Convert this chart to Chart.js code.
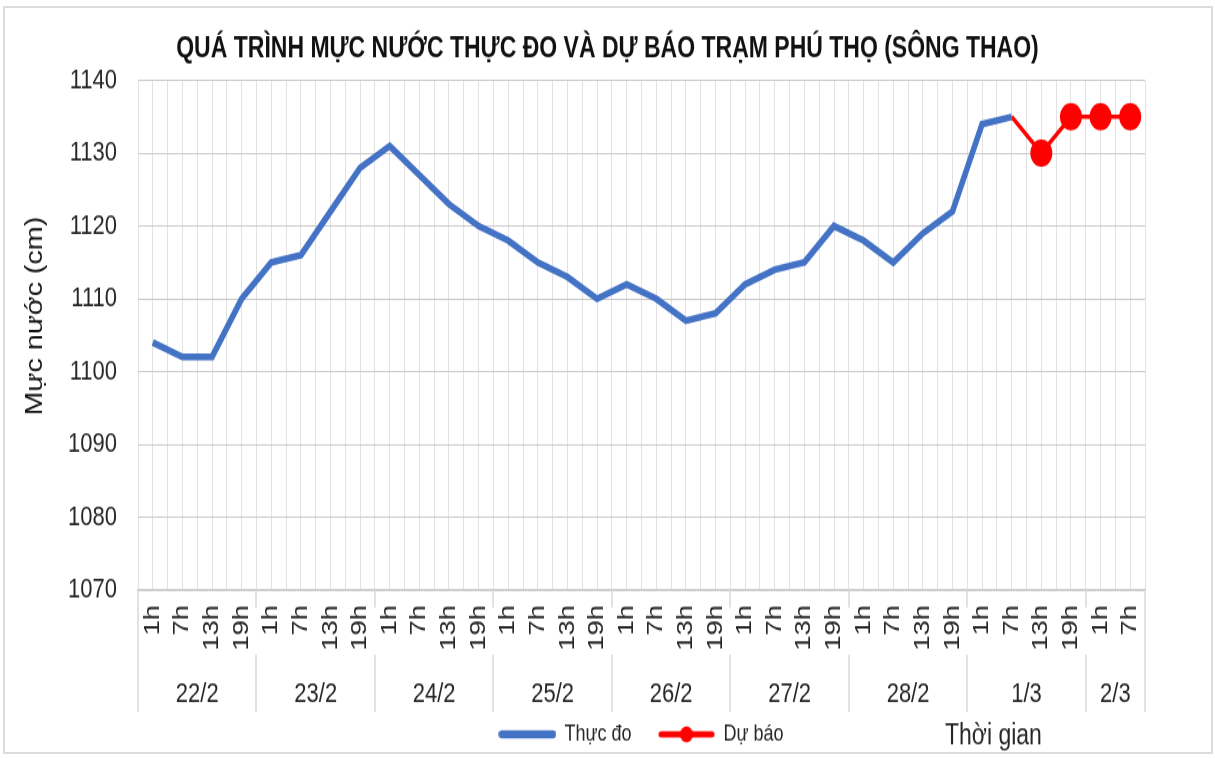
<!DOCTYPE html>
<html lang="vi">
<head>
<meta charset="utf-8">
<title>Mực nước trạm Phú Thọ</title>
<script src="https://cdn.jsdelivr.net/npm/chart.js@4.4.1/dist/chart.umd.min.js"></script>
<style>
    body { margin: 0; background: #fff; overflow: hidden; }
    #khung { position: absolute; left: 3px; top: 6px; width: 1206px; height: 744px; border: 2px solid #dcdcdc; }
    /* hình gốc bị kéo dãn theo chiều dọc, nên vẽ thấp rồi kéo lại */
    #vung { position: absolute; left: 0; top: 0; width: 1215px; height: 609px; transform: scaleY(1.2447); transform-origin: 0 0; }
</style>
</head>
<body>
<div id="khung"></div>
<div id="vung"><canvas id="bieuDoMucNuoc" width="1215" height="609"></canvas></div>
<script>
// ===== Dữ liệu =====
var gio = ['1h', '7h', '13h', '19h', '1h', '7h', '13h', '19h', '1h', '7h', '13h', '19h',
    '1h', '7h', '13h', '19h', '1h', '7h', '13h', '19h', '1h', '7h', '13h', '19h',
    '1h', '7h', '13h', '19h', '1h', '7h', '13h', '19h', '1h', '7h'];
var ngay = ['22/2', '23/2', '24/2', '25/2', '26/2', '27/2', '28/2', '1/3', '2/3'];
var soMocMoiNgay = [4, 4, 4, 4, 4, 4, 4, 4, 2];

var thucDo = [1104, 1102, 1102, 1110, 1115, 1116, 1122, 1128, 1131, 1127, 1123, 1120,
    1118, 1115, 1113, 1110, 1112, 1110, 1107, 1108, 1112, 1114, 1115, 1120,
    1118, 1115, 1119, 1122, 1134, 1135, null, null, null, null];
var duBao = [null, null, null, null, null, null, null, null, null, null, null, null,
    null, null, null, null, null, null, null, null, null, null, null, null,
    null, null, null, null, null, 1135, 1130, 1135, 1135, 1135];

var mocTrucY = [1070, 1080, 1090, 1100, 1110, 1120, 1130, 1140];

var fontChu = "'Liberation Sans', Arial, sans-serif";
var mauChu = '#262626';

// mẫu nét cho chú thích
function taoMauChuThich(mau, coCham) {
    var c = document.createElement('canvas');
    c.width = 58;
    c.height = 14;
    var g = c.getContext('2d');
    g.strokeStyle = mau;
    g.lineCap = 'round';
    g.lineWidth = coCham ? 5 : 6.5;
    g.beginPath();
    g.moveTo(3.5, 7);
    g.lineTo(54.5, 7);
    g.stroke();
    if (coCham) {
        g.fillStyle = mau;
        g.beginPath();
        g.arc(29, 7, 6.5, 0, Math.PI * 2);
        g.fill();
    }
    return c;
}
var mauXanh = taoMauChuThich('#4472C4', false);
var mauDo = taoMauChuThich('#FF0000', true);

// ===== Plugin vẽ nhãn ngày, tên trục =====
var nhanPhu = {
    id: 'nhanPhu',
    afterDraw: function (chart) {
        var ctx = chart.ctx;
        var x = chart.scales.x;
        var vung = chart.chartArea;
        var nuaO = (x.getPixelForValue(1) - x.getPixelForValue(0)) / 2;
        var dayDuoi = 572;

        ctx.save();
        ctx.strokeStyle = '#d9d9d9';
        ctx.lineWidth = 1.5;
        ctx.fillStyle = mauChu;
        ctx.font = '22px ' + fontChu;
        ctx.textAlign = 'center';
        ctx.textBaseline = 'middle';

        var batDau = 0;
        for (var i = 0; i <= ngay.length; i++) {
            var xb = Math.round(x.getPixelForValue(batDau) - nuaO);
            ctx.beginPath();
            if (i === 0 || i === ngay.length) {
                ctx.moveTo(xb, vung.bottom);
                ctx.lineTo(xb, dayDuoi);
            } else {
                ctx.moveTo(xb, vung.bottom);
                ctx.lineTo(xb, 488);
                ctx.moveTo(xb, 526);
                ctx.lineTo(xb, dayDuoi);
            }
            ctx.stroke();
            if (i < ngay.length) {
                var giua = (x.getPixelForValue(batDau) + x.getPixelForValue(batDau + soMocMoiNgay[i] - 1)) / 2;
                ctx.fillText(ngay[i], giua, 558);
                batDau += soMocMoiNgay[i];
            }
        }

        // tên trục tung
        ctx.save();
        ctx.fillStyle = '#111';
        ctx.font = '23px ' + fontChu;
        ctx.translate(36, 254);
        ctx.rotate(-Math.PI / 2);
        ctx.fillText('Mực nước (cm)', 0, 0);
        ctx.restore();

        // tên trục hoành
        ctx.textAlign = 'left';
        ctx.font = '23px ' + fontChu;
        ctx.fillText('Thời gian', 945, 592);
        ctx.restore();
    }
};

// ===== Biểu đồ =====
var ctxMucNuoc = document.getElementById('bieuDoMucNuoc').getContext('2d');
var bieuDoMucNuoc = new Chart(ctxMucNuoc, {
    type: 'line',
    data: {
        labels: gio,
        datasets: [{
            label: 'Thực đo',
            data: thucDo,
            borderColor: '#4472C4',
            backgroundColor: '#4472C4',
            borderWidth: 5.5,
            pointRadius: 0,
            tension: 0
        }, {
            label: 'Dự báo',
            data: duBao,
            borderColor: '#FF0000',
            backgroundColor: '#FF0000',
            borderWidth: 3.5,
            pointRadius: function (c) { return c.dataIndex > 29 ? 11 : 0; },
            pointBorderWidth: 0,
            tension: 0
        }]
    },
    options: {
        responsive: false,
        animation: false,
        layout: { padding: 0 },
        plugins: {
            title: {
                display: true,
                text: 'QUÁ TRÌNH MỰC NƯỚC THỰC ĐO VÀ DỰ BÁO TRẠM PHÚ THỌ (SÔNG THAO)',
                color: '#111',
                font: { family: fontChu, size: 23, weight: 'bold' },
                padding: { top: 26, bottom: 11 }
            },
            legend: {
                position: 'bottom',
                fullSize: false,
                labels: {
                    usePointStyle: true,
                    pointStyleWidth: 56,
                    padding: 27,
                    font: { family: fontChu, size: 18 },
                    generateLabels: function () {
                        return [
                            { text: 'Thực đo', pointStyle: mauXanh, fillStyle: '#4472C4', strokeStyle: '#4472C4', lineWidth: 0, fontColor: mauChu, hidden: false, datasetIndex: 0 },
                            { text: 'Dự báo', pointStyle: mauDo, fillStyle: '#FF0000', strokeStyle: '#FF0000', lineWidth: 0, fontColor: mauChu, hidden: false, datasetIndex: 1 }
                        ];
                    }
                }
            },
            tooltip: { enabled: false }
        },
        scales: {
            x: {
                type: 'category',
                offset: true,
                grid: { offset: true, color: '#e2e2e2', drawTicks: false },
                border: { color: '#d0d0d0', width: 1.5 },
                ticks: {
                    autoSkip: false,
                    maxRotation: 90,
                    minRotation: 90,
                    padding: 12,
                    color: mauChu,
                    font: { family: fontChu, size: 22 }
                },
                afterFit: function (s) { s.height = 80; }
            },
            x2: {
                type: 'category',
                labels: gio,
                position: 'bottom',
                offset: true,
                grid: { offset: false, color: '#e2e2e2', drawTicks: false },
                border: { display: false },
                ticks: { display: false },
                afterFit: function (s) { s.height = 0; }
            },
            y: {
                min: mocTrucY[0],
                max: mocTrucY[mocTrucY.length - 1],
                afterBuildTicks: function (s) {
                    s.ticks = mocTrucY.map(function (v) { return { value: v }; });
                },
                grid: { color: '#c9c9c9', drawTicks: false },
                border: { display: false },
                ticks: {
                    padding: 21,
                    color: mauChu,
                    font: { family: fontChu, size: 22 },
                    callback: function (v) { return String(v); }
                },
                afterFit: function (s) { s.width = 138; }
            },
            y2: {
                position: 'right',
                grid: { display: false },
                border: { display: false },
                ticks: { display: false },
                afterFit: function (s) { s.width = 70; }
            }
        }
    },
    plugins: [nhanPhu]
});
</script>
</body>
</html>
